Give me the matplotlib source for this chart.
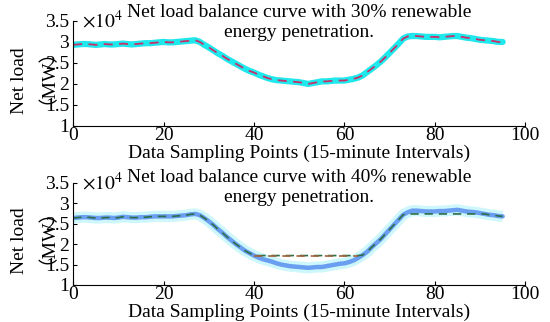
"""
Net load balance curves, 30% and 40% renewable penetration
"""

import numpy as np
import matplotlib
matplotlib.use("Agg")
import matplotlib.pyplot as plt

plt.rcParams["font.family"] = ["Liberation Serif", "Noto Sans CJK SC"]
plt.rcParams["mathtext.fontset"] = "stix"

# net load, units of 1e4 MW, one value per sampling point (0..95)
load_30 = [
    2.93, 2.94, 2.95, 2.95, 2.94, 2.93, 2.94, 2.95, 2.94, 2.94,
    2.95, 2.96, 2.95, 2.94, 2.95, 2.96, 2.97, 2.97, 2.98, 2.99,
    3.00, 2.99, 2.99, 3.00, 3.01, 3.02, 3.03, 3.04, 3.00, 2.93,
    2.87, 2.80, 2.73, 2.67, 2.60, 2.54, 2.48, 2.42, 2.36, 2.31,
    2.27, 2.22, 2.18, 2.14, 2.11, 2.09, 2.08, 2.07, 2.06, 2.05,
    2.04, 2.02, 2.00, 2.02, 2.04, 2.06, 2.06, 2.07, 2.08, 2.08,
    2.08, 2.10, 2.12, 2.15, 2.20, 2.28, 2.36, 2.44, 2.53, 2.63,
    2.74, 2.85, 2.96, 3.08, 3.13, 3.14, 3.14, 3.13, 3.12, 3.12,
    3.12, 3.11, 3.12, 3.13, 3.14, 3.14, 3.12, 3.10, 3.09, 3.07,
    3.05, 3.04, 3.03, 3.02, 3.00, 3.00,
]

load_40 = [
    2.64, 2.65, 2.66, 2.66, 2.65, 2.64, 2.64, 2.65, 2.65, 2.64,
    2.65, 2.67, 2.66, 2.65, 2.65, 2.66, 2.66, 2.67, 2.68, 2.68,
    2.68, 2.68, 2.68, 2.69, 2.70, 2.71, 2.73, 2.74, 2.71, 2.64,
    2.56, 2.47, 2.37, 2.28, 2.18, 2.09, 2.00, 1.92, 1.84, 1.78,
    1.72, 1.67, 1.63, 1.60, 1.57, 1.53, 1.50, 1.48, 1.46, 1.45,
    1.44, 1.43, 1.42, 1.43, 1.44, 1.44, 1.46, 1.48, 1.50, 1.52,
    1.53, 1.56, 1.60, 1.66, 1.73, 1.81, 1.92, 2.02, 2.12, 2.24,
    2.36, 2.48, 2.60, 2.72, 2.78, 2.82, 2.82, 2.81, 2.80, 2.80,
    2.80, 2.81, 2.81, 2.82, 2.83, 2.84, 2.82, 2.80, 2.79, 2.78,
    2.76, 2.74, 2.72, 2.71, 2.69, 2.68,
]

# balanced (clipped) curve for 40%
balanced_40 = [
    2.64, 2.65, 2.66, 2.66, 2.65, 2.64, 2.64, 2.65, 2.65, 2.64,
    2.65, 2.67, 2.66, 2.65, 2.65, 2.66, 2.66, 2.67, 2.68, 2.68,
    2.68, 2.68, 2.68, 2.69, 2.70, 2.71, 2.73, 2.74, 2.71, 2.64,
    2.56, 2.47, 2.37, 2.28, 2.18, 2.09, 2.00, 1.92, 1.84, 1.78,
    1.72, 1.72, 1.72, 1.72, 1.72, 1.72, 1.72, 1.72, 1.72, 1.72,
    1.72, 1.72, 1.72, 1.72, 1.72, 1.72, 1.72, 1.72, 1.72, 1.72,
    1.72, 1.72, 1.72, 1.72, 1.73, 1.81, 1.92, 2.02, 2.12, 2.24,
    2.36, 2.48, 2.60, 2.72, 2.74, 2.74, 2.74, 2.74, 2.74, 2.74,
    2.74, 2.74, 2.74, 2.74, 2.74, 2.74, 2.74, 2.74, 2.74, 2.74,
    2.74, 2.74, 2.72, 2.71, 2.69, 2.68,
]
valley = slice(40, 64)

titles = [
    "Net load balance curve with 30% renewable\nenergy penetration.",
    "Net load balance curve with 40% renewable\nenergy penetration.",
]
xlabel = "Data Sampling Points (15-minute Intervals)"
ylabel_1 = "Net load"
ylabel_2 = "\uff08MW\uff09"
yticks = [1, 1.5, 2, 2.5, 3, 3.5]
xticks = [0, 20, 40, 60, 80, 100]

fs = 14
W, H = 550, 322
fig = plt.figure(figsize=(5.5, 3.22), dpi=100)
ax1 = fig.add_axes([0.133, 0.609, 0.822, 0.326])
ax2 = fig.add_axes([0.133, 0.115, 0.822, 0.317])

x = np.arange(len(load_30))

ax1.plot(x, load_30, color="#1ee8ec", lw=4.5, solid_capstyle="round")
ax1.plot(x, load_30, color="#c8306a", lw=1.3, dashes=(5, 3.5))

ax2.plot(x, load_40, color="#cdf7fb", lw=8, solid_capstyle="butt")
ax2.plot(x, load_40, color="#6a9ef0", lw=3.2, solid_capstyle="round")
b = np.array(balanced_40)
ax2.plot(x, b, color="#2c6e4a", lw=1.2, dashes=(5, 3.5))
ax2.plot(x[valley], b[valley], color="#a0623c", lw=1.2, dashes=(5, 3.5))

panels = ((ax1, titles[0], 0.986, 81), (ax2, titles[1], 0.956, 241))
for ax, t, ty, ly in panels:
    ax.set_xlim(0, 100)
    ax.set_ylim(1, 3.5)
    ax.set_xticks(xticks)
    ax.set_yticks(yticks)
    ax.set_yticklabels(["%g" % v for v in yticks])
    ax.spines["top"].set_visible(False)
    ax.spines["right"].set_visible(False)
    ax.tick_params(direction="in", length=3, labelsize=fs, pad=1)
    ax.tick_params(axis="y", pad=3)
    ax.set_xlabel(xlabel, fontsize=fs, labelpad=0)
    ax.text(0.02, 1.0, r"$\times10^{4}$", transform=ax.transAxes,
            fontsize=fs, ha="left", va="center")
    ax.text(0.5, ty, t, transform=ax.transAxes, fontsize=fs,
            ha="center", va="center", linespacing=1.28)
    fig.text(19 / W, 1 - ly / H, ylabel_1, rotation=90, fontsize=fs,
             ha="center", va="center")
    fig.text(37 / W, 1 - (ly - 14) / H, ylabel_2, rotation=90,
             fontsize=fs, ha="center", va="center")

fig.savefig("out.png", dpi=100)
